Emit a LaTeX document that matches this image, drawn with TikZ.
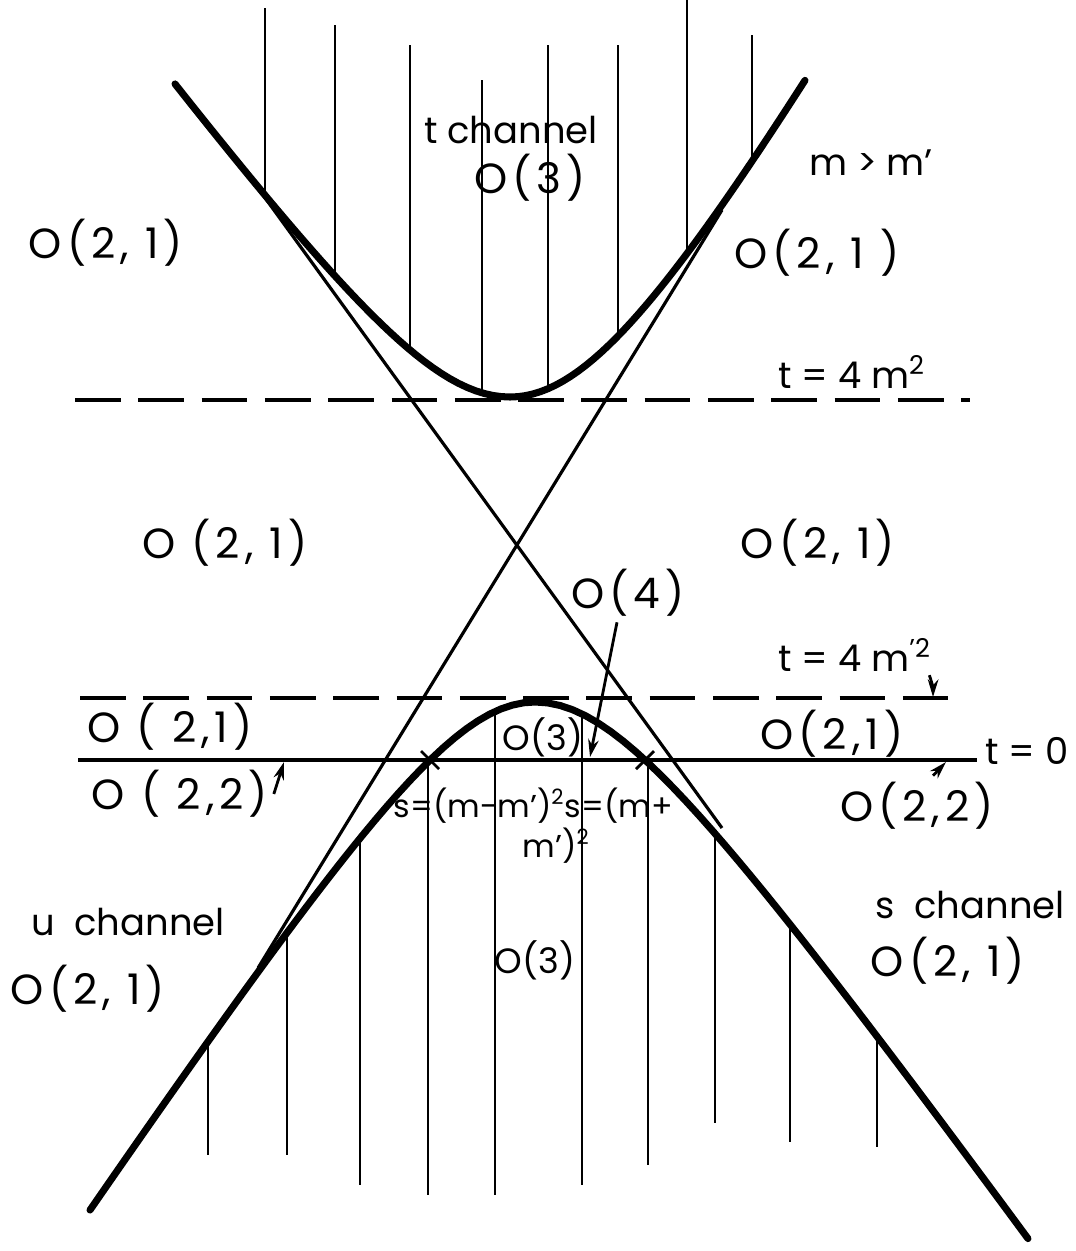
\documentclass[tikz,border=0pt]{standalone}
\usepackage{fontspec}
\setmainfont{Poppins}
\newfontfamily\wide{Poppins}[LetterSpace=12]
\usetikzlibrary{arrows.meta}

\begin{document}
\begin{tikzpicture}[x=0.01cm, y=-0.01cm, every node/.style={inner sep=0pt},
	region/.style={font=\wide\fontsize{12}{14}\selectfont},
	plain/.style={font=\fontsize{10}{12}\selectfont},
	tag/.style={font=\fontsize{10.5}{12}\selectfont},
	small/.style={font=\fontsize{9}{11}\selectfont},
	bound/.style={line width=2pt, line cap=round},
	tangent/.style={line width=0.9pt},
	hatch/.style={line width=0.6pt},
	level/.style={line width=0.9pt, dash pattern=on 13pt off 5pt},
	pointer/.style={line width=0.8pt, -{Stealth[length=5pt, width=3pt]}}]
	\useasboundingbox (0,0) rectangle (1076,1251);
	\foreach \hx/\htop/\hbot in {265/8/195, 335/25/276, 410/45/350, 482/80/393, 548/45/389, 618/45/333, 687/0/254, 752/35/162}
		\draw[hatch] (\hx,\htop) -- (\hx,\hbot);
	\foreach \hx/\htop/\hbot in {208/1042/1155, 287/933/1155, 360/838/1185, 428/760/1195, 495/712/1195, 582/714/1185, 648/762/1165, 715/834/1123, 790/924/1142, 877/1036/1147}
		\draw[hatch] (\hx,\htop) -- (\hx,\hbot);
	\draw[bound] plot[domain=-3.35:0, samples=40] ({510+100*\x},{397-135*(sqrt(1.26*1.26+\x*\x)-1.26)}) -- plot[domain=0:2.95, samples=40] ({510+100*\x},{397-175*(sqrt(1.5*1.5+\x*\x)-1.5)});
	\draw[bound] plot[domain=-4.45:0, samples=40] ({535+100*\x},{702+150*(sqrt(1.23*1.23+\x*\x)-1.23)}) -- plot[domain=0:4.93, samples=40] ({535+100*\x},{702+140*(sqrt(1.254*1.254+\x*\x)-1.254)});
	\draw[tangent] (263,195) -- (722,828);
	\draw[tangent] (722,210) -- (258,968);
	\draw[level] (75,400) -- (970,400);
	\draw[level] (80,698) -- (948,698);
	\draw[line width=1.2pt] (78,760) -- (977,760);
	\foreach \c in {430,645}
		\draw[line width=0.8pt] (\c-9,751) -- (\c+9,769) (\c-9,769) -- (\c+9,751);
	\node[tag] (tch) at (511,130) {t channel};
	\node[region] (o3t) at (530,178) {O(3)};
	\node[tag] (mgt) at (871,163) {m > m’};
	\node[region] (o21a) at (106,243) {O(2, 1)};
	\node[region] (o21b) at (817,253) {O(2, 1 )};
	\node[tag] (t4m) at (852,372) {t = 4 m\textsuperscript{2}};
	\node[region] (o21c) at (225,543) {O (2, 1)};
	\node[region] (o21d) at (818,543) {O(2, 1)};
	\node[region] (o4) at (628,593) {O(4)};
	\node[tag] (t4mp) at (855,655) {t = 4 m\textsuperscript{’2}};
	\node[region] (o21e) at (170,727) {O ( 2,1)};
	\node[plain] (o3m) at (543,737) {O(3)};
	\node[region] (o21f) at (832,734) {O(2,1)};
	\node[tag] (t0) at (1027,751) {t = 0};
	\node[region] (o22a) at (180,794) {O ( 2,2)};
	\node[region] (o22b) at (917,806) {O(2,2)};
	\node[small, anchor=west] (smin) at (393,806) {s=(m-m’)\textsuperscript{2}};
	\node[small, anchor=west] (splus) at (564,806) {s=(m+};
	\node[small, anchor=west] (splusb) at (522,846) {m’)\textsuperscript{2}};
	\node[tag] (uch) at (128,922) {u\ \ channel};
	\node[region] (o21g) at (88,989) {O(2, 1)};
	\node[plain] (o3b) at (535,960) {O(3)};
	\node[tag] (sch) at (970,905) {s\ \ channel};
	\node[region] (o21h) at (948,961) {O(2, 1)};
	\coordinate (o4tip) at (590,757);
	\coordinate (o22atip) at (284,762);
	\coordinate (o22btip) at (946,762);
	\coordinate (lvltip) at (933,697);
	\draw[pointer] ([xshift=-0.11cm, yshift=-0.05cm]o4.south) -- (o4tip);
	\draw[pointer] ([xshift=0.05cm]o22a.east) -- (o22atip);
	\draw[pointer] ([xshift=0.16cm, yshift=0.06cm]o22b.north) -- (o22btip);
	\draw[pointer] ([xshift=-0.03cm, yshift=-0.03cm]t4mp.south east) to[bend left=10] (lvltip);
\end{tikzpicture}
\end{document}
